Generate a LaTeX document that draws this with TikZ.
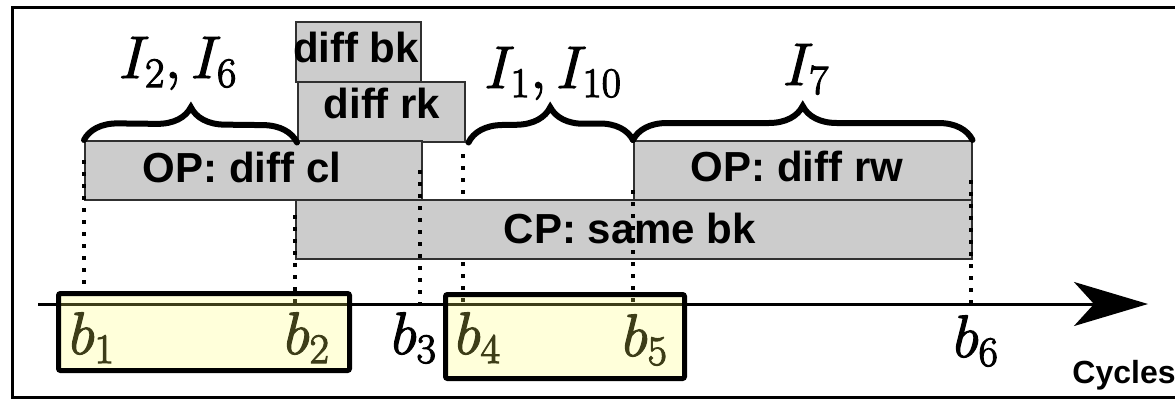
\RequirePackage{fix-cm}
\documentclass[tikz,border=0pt]{standalone}
\usepackage{fontspec}
\newfontfamily\lsans{Liberation Sans}
\usetikzlibrary{decorations.pathreplacing,arrows.meta}
\definecolor{boxgray}{HTML}{CCCCCC}
\definecolor{boxedge}{HTML}{303030}
\definecolor{hiyel}{HTML}{FFFF66}
\newcommand{\heavytext}[1]{\special{pdf:literal direct 2 Tr 1.1 w}#1\special{pdf:literal direct 0 Tr}}
\tikzset{
  gbox/.style={draw=boxedge, line width=1.5pt, fill=boxgray, inner sep=0pt, anchor=north west},
  blab/.style={font=\lsans\bfseries\fontsize{42}{48}\selectfont, inner sep=0pt, anchor=base},
  mlab/.style={font=\fontsize{60}{66}\selectfont, inner sep=0pt, anchor=base},
  dotline/.style={line width=3.5pt, dash pattern=on 3.5pt off 8.5pt},
  ybox/.style={draw=black, line width=5pt, rounded corners=2pt, fill=hiyel, fill opacity=0.24, draw opacity=1, anchor=north west, inner sep=0pt},
  bracestyle/.style={line width=6pt, line cap=round, decorate, decoration={brace, amplitude=34pt}},
}
\begin{document}
\begin{tikzpicture}[x=1pt,y=-1pt]
\useasboundingbox (0,0) rectangle (1175,399);
% frame
\draw[line width=3pt] (1190,7) -- (12,7) -- (12,397) -- (1190,397);
% grey boxes
\node[gbox, minimum width=125pt, minimum height=60pt] (bk) at (295,21) {};
\node[gbox, minimum width=167pt, minimum height=60pt] (rk) at (297,81) {};
\node[gbox, minimum width=337pt, minimum height=59pt] (cl) at (84,140) {};
\node[gbox, minimum width=338pt, minimum height=59pt] (rw) at (633,140) {};
\node[blab] (bkt) at (356,62) {diff bk};
\node[blab] (rkt) at (382,118) {diff rk};
\node[blab] (clt) at (242,182) {OP: diff cl};
\node[blab] (rwt) at (797,181) {OP: diff rw};
% coordinates for dotted lines
\coordinate (d1t) at (84,160);  \coordinate (d1b) at (84,303);
\coordinate (d2t) at (295,215); \coordinate (d2b) at (295,303);
\coordinate (d3t) at (420,170); \coordinate (d3b) at (420,303);
\coordinate (d4t) at (463,154); \coordinate (d4b) at (463,303);
\coordinate (d5t) at (633,190); \coordinate (d5b) at (633,303);
\coordinate (d6t) at (971,180); \coordinate (d6b) at (971,303);
\draw[dotline] (d4t) -- (d4b);
% CP box
\node[gbox, minimum width=676pt, minimum height=59pt] (cp) at (295,199) {};
\node[blab] (cpt) at (630,243) {CP: same bk};
% dotted lines on top
\draw[dotline] (d1t) -- (d1b);
\draw[dotline] (d2t) -- (d2b);
\draw[dotline] (d3t) -- (d3b);
\draw[dotline] (d5t) -- (d5b);
\draw[dotline] (d6t) -- (d6b);
% axis
\coordinate (ax0) at (38,304);
\coordinate (ax1) at (1148,304);
\draw[line width=3pt, -{Stealth[length=74pt, width=44pt, inset=20pt]}] (ax0) -- (ax1);
% labels
\node[mlab] (b1) at (92,354) {\heavytext{$b_1$}};
\node[mlab] (b2) at (307,354) {\heavytext{$b_2$}};
\node[mlab] (b3) at (414,354) {\heavytext{$b_3$}};
\node[mlab] (b4) at (478,354) {\heavytext{$b_4$}};
\node[mlab] (b5) at (645,356) {\heavytext{$b_5$}};
\node[mlab] (b6) at (976,357) {\heavytext{$b_6$}};
\node[font=\lsans\bfseries\fontsize{32}{38}\selectfont, inner sep=0pt, anchor=base] (cyc) at (1124,383) {Cycles};
% highlighted boxes
\node[ybox, minimum width=291pt, minimum height=77pt] (y1) at (56,291) {};
\node[ybox, minimum width=239pt, minimum height=84pt] (y2) at (443,292) {};
% braces
\draw[bracestyle] (cl.north west) -- (rk.south west);
\draw[bracestyle] ([xshift=3pt]rk.south east) -- (rw.north west);
\draw[bracestyle] (rw.north west) -- (rw.north east);
\node[mlab] (i26) at (178,78) {\heavytext{$I_2, I_6$}};
\node[mlab] (i110) at (553,88) {\heavytext{$I_1, I_{10}$}};
\node[mlab] (i7) at (806,85) {\heavytext{$I_7$}};
\end{tikzpicture}
\end{document}
